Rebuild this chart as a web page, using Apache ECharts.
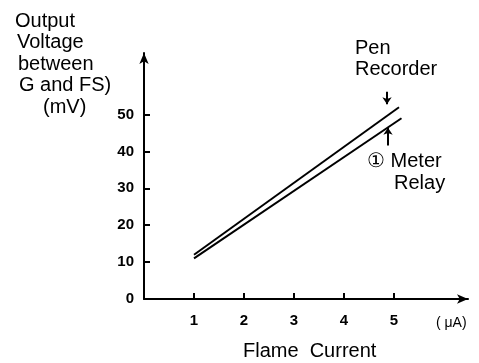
<!DOCTYPE html>
<html>
<head>
<meta charset="utf-8">
<script src="https://cdn.jsdelivr.net/npm/echarts@6/dist/echarts.min.js"></script>
<style>
  html, body { margin: 0; padding: 0; background: #fff; }
  #main { width: 479px; height: 363px; }
</style>
</head>
<body>
<div id="main"></div>
<script>
// data
const xTicks = [1, 2, 3, 4, 5];
const yTicks = [10, 20, 30, 40, 50];
const yLabels = [0, 10, 20, 30, 40, 50];
const penRecorder = [[1, 12], [5.1, 52]];
const meterRelay = [[1, 11], [5.15, 49]];
// annotation arrows (data coords)
const penArrow = [[4.86, 56.2], [4.86, 52.8]];
const relayArrow = [[4.88, 41.6], [4.88, 46.4]];
const yTitle = ["Output", "Voltage", "between", "G and FS)", "(mV)"];
const yTitleX = [15, 17, 18, 19, 43];

const font = "Liberation Sans";
const txt = (size) => size + "px '" + font + "'";
const chartDom = document.getElementById("main");
const myChart = echarts.init(chartDom);

const graphics = yTitle.map((t, i) => ({
  type: "text",
  left: yTitleX[i],
  top: 11 + i * 21.5,
  style: { text: t, font: txt(20), fill: "#000" },
}));
graphics.push(
  { type: "text", left: 355, top: 38, style: { text: "Pen", font: txt(20), fill: "#000" } },
  { type: "text", left: 355, top: 59, style: { text: "Recorder", font: txt(20), fill: "#000" } },
  { type: "text", left: 367, top: 151, style: { text: "\u2460 Meter", font: txt(20), fill: "#000" } },
  { type: "text", left: 394, top: 173, style: { text: "Relay", font: txt(20), fill: "#000" } },
  { type: "text", left: 436, top: 316, style: { text: "( \u03bcA)", font: txt(14), fill: "#000" } },
  { type: "text", left: 243, top: 341, style: { text: "Flame  Current", font: txt(20), fill: "#000" } }
);

const arrowLine = (pts) => [{ coord: pts[0] }, { coord: pts[1] }];

const option = {
  animation: false,
  grid: { left: 144, right: 11, top: 53, bottom: 64 },
  xAxis: {
    type: "value",
    min: 0,
    max: 6.48,
    axisLine: { show: true, symbol: ["none", "arrow"], symbolSize: [7, 11], lineStyle: { color: "#000", width: 2 } },
    axisTick: { show: true, inside: true, length: 6, customValues: xTicks, lineStyle: { color: "#000", width: 2 } },
    axisLabel: { customValues: xTicks, margin: 14, color: "#000", fontSize: 15, fontWeight: "bold", fontFamily: font },
    splitLine: { show: false },
  },
  yAxis: {
    type: "value",
    min: 0,
    max: 66.7,
    axisLine: { show: true, symbol: ["none", "arrow"], symbolSize: [7, 11], lineStyle: { color: "#000", width: 2 } },
    axisTick: { show: true, inside: true, length: 6, customValues: yTicks, lineStyle: { color: "#000", width: 2 } },
    axisLabel: { customValues: yLabels, margin: 10, color: "#000", fontSize: 15, fontWeight: "bold", fontFamily: font },
    splitLine: { show: false },
  },
  graphic: graphics,
  series: [
    {
      name: "Pen Recorder",
      type: "line",
      data: penRecorder,
      showSymbol: false,
      lineStyle: { color: "#000", width: 2 },
      markLine: {
        silent: true,
        symbol: ["none", "arrow"],
        symbolSize: 7,
        label: { show: false },
        lineStyle: { color: "#000", width: 2, type: "solid" },
        data: [arrowLine(penArrow), arrowLine(relayArrow)],
      },
    },
    {
      name: "Meter Relay",
      type: "line",
      data: meterRelay,
      showSymbol: false,
      lineStyle: { color: "#000", width: 2 },
    },
  ],
};

option && myChart.setOption(option);
</script>
</body>
</html>
